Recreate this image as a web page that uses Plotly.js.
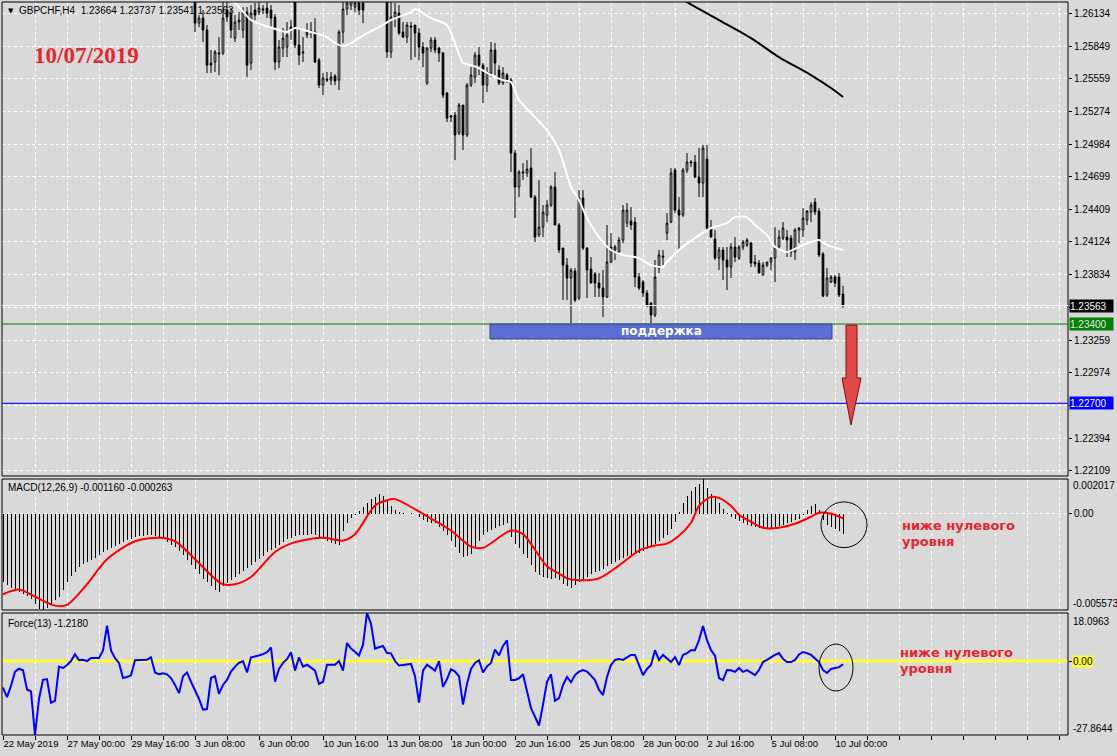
<!DOCTYPE html>
<html><head><meta charset="utf-8">
<script src="https://cdn.plot.ly/plotly-3.0.1.min.js"></script>
<style>html,body{margin:0;padding:0;background:#d9d9d9;}#chart{width:1117px;height:756px;}</style>
</head><body><div id="chart"></div>
<script>
// ---------- DATA ----------
const xTickIdx = [0,16,32,48,64,80,96,112,128,144,160,176,192,208];
const xTickText = ["22 May 2019","27 May 00:00","29 May 16:00","3 Jun 08:00","6 Jun 00:00","10 Jun 16:00","13 Jun 08:00","18 Jun 00:00","20 Jun 16:00","25 Jun 08:00","28 Jun 00:00","2 Jul 16:00","5 Jul 08:00","10 Jul 00:00"];
const priceTicks = [1.26134,1.25849,1.25559,1.25274,1.24984,1.24699,1.24409,1.24124,1.23834,1.23549,1.23259,1.22974,1.22684,1.22394,1.22109];
const priceTickText = ["1.26134","1.25849","1.25559","1.25274","1.24984","1.24699","1.24409","1.24124","1.23834","","1.23259","1.22974","","1.22394","1.22109"];

const candleFirstBar = 48;
const open = [1.26298,1.26051,1.26095,1.25990,1.25681,1.25708,1.25778,1.25787,1.26166,1.26139,
1.25919,1.26060,1.25990,1.26148,1.25699,1.26166,1.26148,1.26166,1.26184,1.26166,
1.26104,1.25708,1.25831,1.25840,1.26016,1.26298,1.25858,1.25787,1.25946,1.25972,
1.25972,1.25725,1.25505,1.25558,1.25549,1.25584,1.25549,1.25972,1.26175,1.26210,
1.26192,1.26228,1.26228,1.26280,1.26350,1.26420,1.26400,1.26380,1.26324,1.25796,
1.26104,1.26139,1.25972,1.25928,1.26025,1.26034,1.25963,1.25840,1.25523,1.25831,
1.25902,1.25831,1.25787,1.25435,1.25223,1.25241,1.25082,1.25329,1.25065,1.25505,
1.25576,1.25769,1.25681,1.25505,1.25611,1.25814,1.25637,1.25523,1.25593,1.25549,
1.24906,1.24607,1.24730,1.24730,1.24774,1.24518,1.24184,1.24254,1.24360,1.24448,
1.24607,1.24272,1.24069,1.23919,1.23805,1.23866,1.23629,1.24510,1.24069,1.23884,
1.23840,1.23761,1.23717,1.23638,1.23946,1.24052,1.24034,1.24140,1.24289,1.24307,
1.24298,1.23814,1.23770,1.23673,1.23585,1.23479,1.23893,1.23999,1.24201,1.24298,
1.24756,1.24404,1.24360,1.24756,1.24818,1.24827,1.24695,1.24642,1.24853,1.24245,
1.24148,1.23981,1.24052,1.23964,1.23902,1.24078,1.23981,1.24078,1.24096,1.24113,
1.23946,1.23937,1.23831,1.23919,1.23946,1.23981,1.24078,1.24157,1.24166,1.24157,
1.24034,1.24228,1.24228,1.24316,1.24386,1.24474,1.24395,1.24016,1.23655,1.23770,
1.23814,1.23814,1.23664];
const high = [1.26342,1.26122,1.26166,1.26034,1.25814,1.25814,1.25928,1.26254,1.26272,1.26184,
1.26122,1.26148,1.26192,1.26192,1.26210,1.26228,1.26254,1.26210,1.26236,1.26210,
1.26131,1.25902,1.26007,1.26060,1.26078,1.26342,1.26007,1.25928,1.26051,1.26060,
1.26095,1.25743,1.25611,1.25620,1.25620,1.25602,1.25990,1.26254,1.26280,1.26307,
1.26280,1.26280,1.26272,1.26380,1.26450,1.26480,1.26470,1.26430,1.26386,1.26272,
1.26228,1.26210,1.26060,1.26060,1.26060,1.26034,1.26007,1.25884,1.25840,1.25928,
1.25928,1.25840,1.25796,1.25443,1.25241,1.25267,1.25347,1.25329,1.25523,1.25664,
1.25796,1.25840,1.25699,1.25664,1.25884,1.25875,1.25681,1.25664,1.25611,1.25567,
1.24933,1.24756,1.24818,1.24844,1.24950,1.24536,1.24668,1.24448,1.24492,1.24624,
1.24739,1.24289,1.24069,1.23981,1.23893,1.23893,1.24580,1.24580,1.24078,1.23990,
1.23858,1.23849,1.23875,1.24272,1.24201,1.24096,1.24166,1.24448,1.24466,1.24430,
1.24342,1.23849,1.23787,1.23699,1.23593,1.23964,1.24052,1.24052,1.24377,1.24774,
1.24774,1.24518,1.24774,1.24906,1.24844,1.24889,1.24950,1.24977,1.24977,1.24316,
1.24228,1.24078,1.24078,1.24078,1.24113,1.24166,1.24096,1.24140,1.24157,1.24122,
1.24008,1.23964,1.23946,1.23946,1.23990,1.24254,1.24228,1.24298,1.24228,1.24184,
1.24245,1.24254,1.24421,1.24404,1.24474,1.24510,1.24421,1.24034,1.23893,1.23831,
1.23831,1.23849,1.23737];
const low = [1.25972,1.26016,1.25884,1.25611,1.25611,1.25620,1.25593,1.25769,1.26060,1.25919,
1.25884,1.25990,1.25919,1.25576,1.25637,1.26078,1.26122,1.26131,1.26095,1.26007,
1.25637,1.25655,1.25752,1.25752,1.25902,1.25831,1.25681,1.25708,1.25919,1.25919,
1.25699,1.25479,1.25417,1.25532,1.25505,1.25505,1.25461,1.25875,1.26122,1.26166,
1.26148,1.26122,1.26051,1.26250,1.26320,1.26360,1.26330,1.26300,1.25743,1.25743,
1.26016,1.25946,1.25919,1.25875,1.25725,1.25752,1.25725,1.25664,1.25505,1.25796,
1.25787,1.25708,1.25391,1.25179,1.25179,1.24844,1.25065,1.24933,1.25047,1.25488,
1.25523,1.25593,1.25347,1.25443,1.25576,1.25593,1.25505,1.25505,1.25523,1.24739,
1.24333,1.24518,1.24668,1.24695,1.24510,1.24122,1.24166,1.24166,1.24298,1.24430,
1.24272,1.24025,1.23611,1.23611,1.23408,1.23593,1.23611,1.24052,1.23629,1.23761,
1.23638,1.23638,1.23461,1.23629,1.23937,1.23964,1.24025,1.24113,1.24254,1.24228,
1.23726,1.23699,1.23638,1.23549,1.23408,1.23461,1.23849,1.23919,1.24140,1.24289,
1.24377,1.24052,1.24342,1.24730,1.24783,1.24686,1.24518,1.24518,1.24228,1.24166,
1.23964,1.23875,1.23787,1.23699,1.23805,1.23946,1.23964,1.24052,1.24078,1.23902,
1.23902,1.23849,1.23831,1.23902,1.23875,1.23770,1.24052,1.24140,1.23990,1.23990,
1.23964,1.24113,1.24166,1.24272,1.24298,1.24360,1.23990,1.23638,1.23638,1.23761,
1.23726,1.23638,1.23541];
const close = [1.26051,1.26095,1.25990,1.25681,1.25699,1.25796,1.25787,1.26095,1.26104,1.25990,
1.26060,1.26078,1.26148,1.25681,1.26139,1.26122,1.26184,1.26175,1.26139,1.26095,
1.25708,1.25840,1.25919,1.25946,1.25990,1.25858,1.25769,1.25796,1.25972,1.25981,
1.25708,1.25505,1.25567,1.25549,1.25576,1.25540,1.25972,1.26175,1.26228,1.26272,
1.26228,1.26166,1.26166,1.26350,1.26420,1.26400,1.26380,1.26340,1.25796,1.26104,
1.26148,1.25963,1.25928,1.26034,1.26016,1.25963,1.25840,1.25787,1.25831,1.25902,
1.25814,1.25787,1.25417,1.25214,1.25232,1.25065,1.25329,1.25065,1.25505,1.25593,
1.25769,1.25681,1.25505,1.25620,1.25814,1.25699,1.25523,1.25611,1.25549,1.24906,
1.24607,1.24739,1.24739,1.24765,1.24518,1.24166,1.24254,1.24386,1.24448,1.24607,
1.24272,1.24052,1.23919,1.23805,1.23875,1.23611,1.24510,1.24069,1.23875,1.23761,
1.23761,1.23717,1.23638,1.23946,1.24078,1.24078,1.24140,1.24404,1.24404,1.24272,
1.23814,1.23717,1.23673,1.23567,1.23479,1.23814,1.24008,1.23990,1.24289,1.24730,
1.24404,1.24360,1.24756,1.24827,1.24827,1.24695,1.24642,1.24950,1.24245,1.24166,
1.23981,1.24052,1.23964,1.23902,1.24078,1.23990,1.24078,1.24122,1.24140,1.23937,
1.23928,1.23849,1.23919,1.23946,1.23981,1.24078,1.24166,1.24245,1.24140,1.24034,
1.24228,1.24245,1.24333,1.24395,1.24448,1.24386,1.24008,1.23646,1.23805,1.23814,
1.23761,1.23655,1.23563];

// white moving average (bar index, value)
const maWhiteIdx = [55,58,62,65,69,71,73,77,81,83,85,87,91,94,97,102,103,107,111,113,115,117,119,122,125,127,129,136,139,142,144,146,149,152,155,159,162,165,166,169,173,177,181,183,186,188,191,193,196,199,202,204,206,210];
const maWhiteVal = [1.26272,1.26228,1.26078,1.26034,1.25990,1.25972,1.26007,1.25972,1.25928,1.25875,1.25849,1.25875,1.25963,1.26016,1.26078,1.26148,1.26175,1.26095,1.26034,1.25875,1.25699,1.25681,1.25655,1.25593,1.25549,1.25532,1.25373,1.25109,1.24933,1.24607,1.24492,1.24333,1.24166,1.24052,1.24008,1.23981,1.23919,1.23902,1.23946,1.24052,1.24158,1.24245,1.24289,1.24342,1.24342,1.24272,1.24184,1.24078,1.24034,1.24078,1.24122,1.24140,1.24096,1.24052];
// black moving average
const maBlackIdx = [167,171,179,187,194,202,207,210];
const maBlackVal = [1.26324,1.26236,1.26078,1.25919,1.25752,1.25593,1.25479,1.25400];

// MACD histogram (every bar from index 0)
const macdHist = [-0.00397,-0.00412,-0.00428,-0.00440,-0.00452,-0.00463,-0.00478,-0.00495,-0.00520,-0.00550,
-0.00557,-0.00547,-0.00525,-0.00502,-0.00480,-0.00440,-0.00395,-0.00360,-0.00335,-0.00310,
-0.00292,-0.00278,-0.00268,-0.00255,-0.00237,-0.00222,-0.00211,-0.00200,-0.00188,-0.00176,
-0.00164,-0.00153,-0.00144,-0.00136,-0.00131,-0.00128,-0.00125,-0.00124,-0.00126,-0.00133,
-0.00145,-0.00163,-0.00180,-0.00195,-0.00214,-0.00237,-0.00265,-0.00295,-0.00320,-0.00348,
-0.00375,-0.00397,-0.00420,-0.00442,-0.00453,-0.00420,-0.00398,-0.00382,-0.00365,-0.00347,
-0.00330,-0.00315,-0.00296,-0.00280,-0.00260,-0.00242,-0.00224,-0.00210,-0.00197,-0.00182,
-0.00165,-0.00148,-0.00138,-0.00130,-0.00125,-0.00122,-0.00120,-0.00118,-0.00124,-0.00135,
-0.00145,-0.00157,-0.00168,-0.00175,-0.00180,-0.00097,-0.00055,-0.00025,-0.00005,0.00017,
0.00042,0.00065,0.00088,0.00099,0.00112,0.00102,0.00075,0.00048,0.00025,0.00010,
0.00005,-0.00002,0.00002,-0.00003,-0.00020,-0.00038,-0.00045,-0.00052,-0.00056,-0.00075,
-0.00097,-0.00125,-0.00155,-0.00190,-0.00225,-0.00250,-0.00245,-0.00230,-0.00190,-0.00155,
-0.00125,-0.00105,-0.00092,-0.00080,-0.00068,-0.00062,-0.00056,-0.00135,-0.00175,-0.00198,
-0.00230,-0.00258,-0.00295,-0.00335,-0.00355,-0.00366,-0.00374,-0.00377,-0.00370,-0.00385,
-0.00405,-0.00420,-0.00431,-0.00415,-0.00397,-0.00382,-0.00365,-0.00350,-0.00340,-0.00330,
-0.00317,-0.00302,-0.00290,-0.00280,-0.00270,-0.00258,-0.00247,-0.00238,-0.00230,-0.00225,
-0.00216,-0.00205,-0.00190,-0.00172,-0.00158,-0.00140,-0.00120,-0.00090,-0.00045,0.00010,
0.00065,0.00105,0.00135,0.00155,0.00175,0.002017,0.00150,0.00115,0.00090,0.00062,
0.00030,0.00005,-0.00018,-0.00030,-0.00040,-0.00052,-0.00064,-0.00072,-0.00078,-0.00081,
-0.00082,-0.00082,-0.00080,-0.00076,-0.00070,-0.00062,-0.00055,-0.00046,-0.00036,-0.00028,
-0.00005,0.00025,0.00045,0.00058,0.00020,-0.00035,-0.00062,-0.00078,-0.00088,-0.00102,-0.00116];
// MACD signal line (bar index, value)
const signalIdx = [0,4,8,13,16,21,26,33,39,43,48,53,55,58,62,68,73,80,85,88,93,96,98,106,112,117,120,127,130,136,139,141,144,149,154,159,163,166,169,172,174,177,179,182,184,187,190,194,198,202,204,207,210];
const signalVal = [-0.00466,-0.00439,-0.00480,-0.00532,-0.00528,-0.00408,-0.00263,-0.00159,-0.00139,-0.00159,-0.00263,-0.00377,-0.00408,-0.00408,-0.00366,-0.00221,-0.00164,-0.00139,-0.00155,-0.00118,0.00048,0.00079,0.00085,-0.00014,-0.00097,-0.00190,-0.00197,-0.00097,-0.00118,-0.00304,-0.00346,-0.00374,-0.00385,-0.00374,-0.00299,-0.00213,-0.00184,-0.00173,-0.00127,-0.00052,0.00046,0.00098,0.00092,0.00046,-0.00006,-0.00046,-0.00081,-0.00081,-0.00058,-0.00017,0.00006,0.00000,-0.000263];

// Force index (every bar from index 0)
const force = [-10,-13.6,-9.3,-4,-2.9,-3.5,-10.7,-11.4,-27.8644,-14.3,
-7.1,-6.8,-15.7,-15,-2.1,-2.6,-1.5,0,2.6,0.3,
0.5,0,1.1,1.1,1.1,4,13.3,4,1.1,-0.7,
-6.4,-6,-5.4,0.3,0.3,0.3,0.5,1.4,-4.3,-5,
-4.6,-5,-6.4,-9,-12.1,-5.7,-4.3,-7.8,-11,-14.3,
-18.3,-18.1,-6.4,-5.7,-12.4,-9,-7.1,-4,-2.1,-0.7,
0,-4.3,1.4,1.7,2.1,2.6,3.3,5.1,-7.8,-3,
-0.7,0.7,3.3,-3.6,1.4,-2.1,-1.4,-2.5,-3.6,-8.6,
-7.8,-1.4,-1.4,-1.4,0,-3.6,6.8,4.7,3.5,2.1,
6.1,18.0963,14,4.7,5.2,5.7,3,2.9,0,-1.7,
-1.5,-1.4,-1.1,-5.7,-15.7,-3.6,-1.4,-2.5,-3.6,0,
-9.7,-6.8,-3.1,-4,-5.7,-16.4,-8.6,-3,-0.7,0.3,
-4.3,-2,-0.7,4.3,2.1,5.7,7.8,-7.1,-7.1,-6.5,
-5,-11.4,-17.8,-21,-24.3,-16.4,-7.8,-5,-15,-14,
-9,-6,-8,-5.3,-4,-3.4,-4,-5.5,-7.2,-10.9,
-12.8,-6,-1.5,0.4,0.8,0.4,1.2,2.3,2.3,-1.5,
-5.3,-3,-1.5,4.1,0.4,2.3,1,-0.4,1.5,-1.5,
2.3,3,4.1,4.1,7.9,13.2,7.9,4.1,2,-6.4,
-7.2,-3.4,-3.5,-4.1,-2.6,-4.1,-3.4,-4.5,-5.3,-3.4,
-0.4,0.4,1.5,2.3,3,0.8,-0.4,-0.4,0.4,2.5,
3.4,3,2.3,1.1,-0.4,-3.4,-4.5,-3,-2.6,-2.3,-1.218];

const bidPrice = 1.23563, supportLevel = 1.23400, targetLevel = 1.22700;
const supportBottom = 1.23268, supportFrom = 121.75, supportTo = 207.25;
const macdRange = [-0.005573, 0.002017];
const forceRange = [-27.8644, 18.0963];

// ---------- GEOMETRY HELPERS (layout only) ----------
const W = 1117, H = 756, ML = 2, MR = 49, MT = 2, MB = 21;
const PW = W - ML - MR, PH = H - MT - MB;
const px = x => (x - ML) / PW;
const py = y => (H - MB - y) / PH;

const candleX = open.map((_, k) => candleFirstBar + k);
const barX = macdHist.map((_, k) => k);
const gridVals = []; for (let v = 0; v <= 264; v += 8) gridVals.push(v);
const gridText = gridVals.map(v => { const j = xTickIdx.indexOf(v); return j >= 0 ? xTickText[j] : ""; });

const axFont = {family: "Liberation Sans, Arial, sans-serif", size: 10, color: "#000"};
const xFont = {family: "Liberation Sans, Arial, sans-serif", size: 9.5, color: "#000"};
const RED = "#e2262e";

const traces = [
  {type: "candlestick", x: candleX, open: open, high: high, low: low, close: close,
   xaxis: "x", yaxis: "y", whiskerwidth: 0, hoverinfo: "skip", showlegend: false,
   increasing: {line: {color: "#000", width: 1}, fillcolor: "#ffffff"},
   decreasing: {line: {color: "#000", width: 1}, fillcolor: "#000000"}},
  {type: "scatter", mode: "lines", x: maWhiteIdx, y: maWhiteVal, yaxis: "y",
   line: {color: "#ffffff", width: 2, shape: "spline", smoothing: 0.6}, hoverinfo: "skip", showlegend: false},
  {type: "scatter", mode: "lines", x: maBlackIdx, y: maBlackVal, yaxis: "y",
   line: {color: "#000000", width: 2, shape: "spline"}, hoverinfo: "skip", showlegend: false},
  {type: "bar", x: barX, y: macdHist, yaxis: "y2", width: 0.25,
   marker: {color: "#000", line: {width: 0}}, hoverinfo: "skip", showlegend: false},
  {type: "scatter", mode: "lines", x: signalIdx, y: signalVal, yaxis: "y2",
   line: {color: "#ff0000", width: 2, shape: "spline", smoothing: 0.8}, hoverinfo: "skip", showlegend: false},
  {type: "scatter", mode: "lines", x: barX, y: force, yaxis: "y3",
   line: {color: "#0000ff", width: 2}, hoverinfo: "skip", showlegend: false}
];

const mainDom = [py(476), py(2)], macdDom = [py(610), py(479)], forceDom = [py(735), py(613)];
const gridStyle = {showgrid: true, gridcolor: "#ffffff", gridwidth: 1, griddash: "3px,3px"};

const layout = {
  width: W, height: H, margin: {l: ML, r: MR, t: MT, b: MB, pad: 0},
  paper_bgcolor: "#d9d9d9", plot_bgcolor: "#d9d9d9", showlegend: false, bargap: 0, boxgap: 0.4,
  xaxis: Object.assign({range: [-0.25, 266.25], anchor: "y3", tickvals: gridVals, ticktext: gridText,
    tickangle: 0, ticks: "outside", ticklen: 4, tickcolor: "#000", tickfont: xFont, ticklabelposition: "outside right",
    zeroline: false, showline: false, rangeslider: {visible: false}, fixedrange: true, automargin: false}, gridStyle),
  yaxis: Object.assign({domain: mainDom, range: [1.22061, 1.26237], side: "right", anchor: "x",
    tickvals: priceTicks, ticktext: priceTickText, ticks: "outside", ticklen: 3, tickcolor: "#000",
    tickfont: axFont, zeroline: false, automargin: false, fixedrange: true}, gridStyle),
  yaxis2: Object.assign({domain: macdDom, range: macdRange, side: "right", anchor: "x",
    tickvals: [0], ticktext: ["0.00"], ticks: "outside", ticklen: 3, tickcolor: "#000",
    tickfont: axFont, zeroline: false, automargin: false, fixedrange: true}, gridStyle),
  yaxis3: Object.assign({domain: forceDom, range: forceRange, side: "right", anchor: "x",
    tickvals: [0], ticktext: [""], ticks: "outside", ticklen: 3, tickcolor: "#000",
    tickfont: axFont, zeroline: false, automargin: false, fixedrange: true}, {showgrid: false}),
  shapes: [
    {type: "rect", xref: "paper", yref: "paper", x0: 0, x1: 1, y0: mainDom[0], y1: mainDom[1], line: {color: "#000", width: 1}},
    {type: "rect", xref: "paper", yref: "paper", x0: 0, x1: 1, y0: macdDom[0], y1: macdDom[1], line: {color: "#000", width: 1}},
    {type: "rect", xref: "paper", yref: "paper", x0: 0, x1: 1, y0: forceDom[0], y1: forceDom[1], line: {color: "#000", width: 1}},
    {type: "line", xref: "paper", yref: "y", x0: 0, x1: 1, y0: bidPrice, y1: bidPrice, line: {color: "#f4f4f4", width: 1}},
    {type: "line", xref: "paper", yref: "y", x0: 0, x1: 1, y0: supportLevel, y1: supportLevel, line: {color: "#008000", width: 1}},
    {type: "line", xref: "paper", yref: "y", x0: 0, x1: 1, y0: targetLevel, y1: targetLevel, line: {color: "#1c1cff", width: 1.2}},
    {type: "line", xref: "paper", yref: "y3", x0: 0, x1: 1, y0: 0, y1: 0, layer: "between", line: {color: "#ffff33", width: 3}},
    {type: "rect", xref: "x", yref: "y", x0: supportFrom, x1: supportTo, y0: supportBottom, y1: supportLevel,
     fillcolor: "#5a6fd4", line: {color: "#3a4a8a", width: 1}, layer: "above"},
    {type: "path", xref: "x", yref: "y", layer: "above",
     path: "M 210.75,1.23391 L 213.5,1.23391 L 213.5,1.22924 L 214.5,1.22924 L 212,1.22510 L 209.75,1.22924 L 210.75,1.22924 Z",
     fillcolor: "#e24a4a", line: {color: "#7a1010", width: 1}},
    {type: "circle", xref: "x", yref: "y2", x0: 204.5, x1: 216, y0: -0.00196, y1: 0.00069, line: {color: "#000", width: 1}},
    {type: "circle", xref: "x", yref: "y3", x0: 204, x1: 212.5, y0: -11.3, y1: 6.4, line: {color: "#000", width: 1}}
  ],
  annotations: [
    {xref: "paper", yref: "paper", x: px(6), y: py(11), xanchor: "left", yanchor: "middle", showarrow: false,
     text: "▼", font: {family: "DejaVu Sans", size: 7, color: "#000"}},
    {xref: "paper", yref: "paper", x: px(17), y: py(11), xanchor: "left", yanchor: "middle", showarrow: false,
     text: "GBPCHF,H4  1.23664 1.23737 1.23541 1.23563", font: axFont},
    {xref: "paper", yref: "paper", x: px(86), y: py(55), xanchor: "center", yanchor: "middle", showarrow: false,
     text: "<b>10/07/2019</b>", font: {family: "Liberation Serif, serif", size: 23, color: RED}},
    {xref: "paper", yref: "paper", x: px(6), y: py(487), xanchor: "left", yanchor: "middle", showarrow: false,
     text: "MACD(12,26,9) -0.001160 -0.000263", font: axFont},
    {xref: "paper", yref: "paper", x: px(6), y: py(623), xanchor: "left", yanchor: "middle", showarrow: false,
     text: "Force(13) -1.2180", font: axFont},
    {xref: "x", yref: "y", x: (supportFrom + supportTo) / 2, y: (supportLevel + supportBottom) / 2, showarrow: false,
     text: "<b>поддержка</b>", font: {family: "DejaVu Sans", size: 12, color: "#ffffff"}, yshift: 1},
    {xref: "paper", yref: "paper", x: px(900), y: py(525), xanchor: "left", yanchor: "middle", showarrow: false,
     text: "<b>ниже нулевого</b>", font: {family: "DejaVu Sans", size: 13, color: RED}},
    {xref: "paper", yref: "paper", x: px(900), y: py(541), xanchor: "left", yanchor: "middle", showarrow: false,
     text: "<b>уровня</b>", font: {family: "DejaVu Sans", size: 13, color: RED}},
    {xref: "paper", yref: "paper", x: px(898), y: py(652), xanchor: "left", yanchor: "middle", showarrow: false,
     text: "<b>ниже нулевого</b>", font: {family: "DejaVu Sans", size: 13, color: RED}},
    {xref: "paper", yref: "paper", x: px(898), y: py(668), xanchor: "left", yanchor: "middle", showarrow: false,
     text: "<b>уровня</b>", font: {family: "DejaVu Sans", size: 13, color: RED}},
    {xref: "paper", yref: "y", x: px(1069), y: bidPrice, xanchor: "left", yanchor: "middle", showarrow: false,
     text: "1.23563", bgcolor: "#000000", font: Object.assign({}, axFont, {color: "#ffffff"}), width: 43, height: 12, align: "left", borderpad: 0},
    {xref: "paper", yref: "y", x: px(1069), y: supportLevel, xanchor: "left", yanchor: "middle", showarrow: false,
     text: "1.23400", bgcolor: "#008000", font: Object.assign({}, axFont, {color: "#e8e8e8"}), width: 43, height: 12, align: "left", borderpad: 0},
    {xref: "paper", yref: "y", x: px(1069), y: targetLevel, xanchor: "left", yanchor: "middle", showarrow: false,
     text: "1.22700", bgcolor: "#0000ff", font: Object.assign({}, axFont, {color: "#ffffff"}), width: 43, height: 12, align: "left", borderpad: 0},
    {xref: "paper", yref: "y2", x: px(1072), y: macdRange[1], xanchor: "left", yanchor: "top", showarrow: false,
     text: "0.002017", font: axFont, borderpad: 0},
    {xref: "paper", yref: "y2", x: px(1072), y: macdRange[0], xanchor: "left", yanchor: "bottom", showarrow: false,
     text: "-0.005573", font: axFont, borderpad: 0},
    {xref: "paper", yref: "y3", x: px(1072), y: forceRange[1], xanchor: "left", yanchor: "top", showarrow: false,
     text: "18.0963", font: axFont, borderpad: 0, yshift: -2},
    {xref: "paper", yref: "y3", x: px(1072), y: 0, xanchor: "left", yanchor: "middle", showarrow: false,
     text: "0.00", font: axFont, bgcolor: "#ffff33", borderpad: 0},
    {xref: "paper", yref: "y3", x: px(1072), y: forceRange[0], xanchor: "left", yanchor: "bottom", showarrow: false,
     text: "-27.8644", font: axFont, borderpad: 0}
  ]
};

Plotly.newPlot("chart", traces, layout, {staticPlot: true, displayModeBar: false});
</script></body></html>
